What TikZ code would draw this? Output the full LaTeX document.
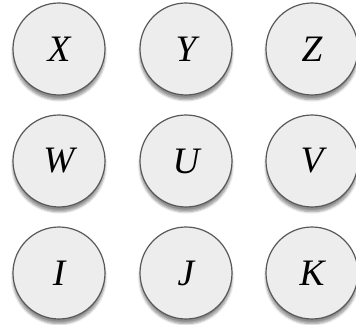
\documentclass[tikz,border=0pt]{standalone}
\usepackage{fontspec}
\setmainfont{Liberation Serif}
\usetikzlibrary{
  shadows.blur, % 圆形下方的模糊阴影
  positioning   % 节点相对定位
}

\begin{document}
\begin{tikzpicture}[x=0.75pt, y=-0.75pt,
  letterball/.style={circle, draw=black!65, line width=0.9pt, fill=black!7,
    minimum size=69pt, inner sep=0pt, font=\fontsize{28}{30}\selectfont\itshape,
    blur shadow={shadow xshift=0pt, shadow yshift=-3.5pt, shadow blur steps=6,
      shadow opacity=45}}]

  % =========== 画布范围 ===========
  \useasboundingbox (0,0) rectangle (356,324);

  % =========== 第一行 ===========
  \node[letterball] (X) at (59,49)  {X};
  \node[letterball] (Y) at (186,49) {Y};
  \node[letterball] (Z) at (312,49) {Z};

  % =========== 第二行 ===========
  \node[letterball] (W) at (59,161)  {W};
  \node[letterball] (U) at (186,161) {U};
  \node[letterball] (V) at (312,161) {V};

  % =========== 第三行 ===========
  \node[letterball] (I) at (59,273)  {I};
  \node[letterball] (J) at (186,273) {J};
  \node[letterball] (K) at (312,273) {K};

\end{tikzpicture}
\end{document}
